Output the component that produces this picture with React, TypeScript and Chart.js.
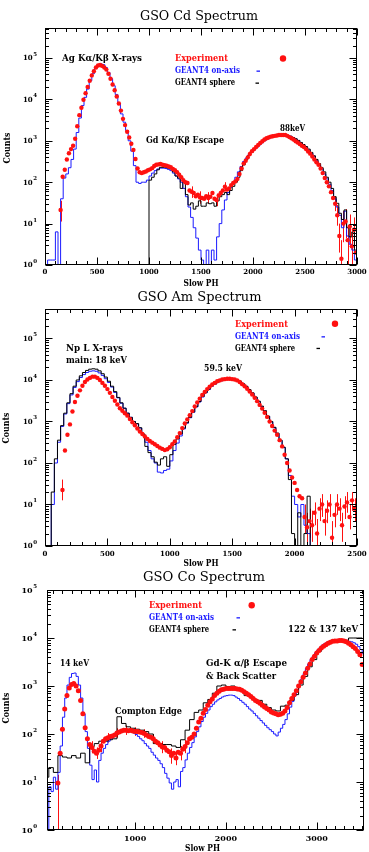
import React, { useEffect, useRef } from "react";
import { Chart, registerables } from "chart.js";

Chart.register(...registerables);

const FONT = '"DejaVu Serif", "Liberation Serif", serif';
const RED = "#ff1010";
const BLUE = "#1a1aff";
const BLACK = "#000000";

// ---------------- Common tick labels ----------------
const yDecades = [0, 1, 2, 3, 4, 5];
const cdXTicks = [0, 500, 1000, 1500, 2000, 2500, 3000];
const amXTicks = [0, 500, 1000, 1500, 2000, 2500];
const coXTicks = [1000, 2000, 3000];

// ---------------- GSO Cd (values are log10(counts)) ----------------
const cdExpStart = 150;
const cdExpStep = 20;
const cdExpLog = [
  1.33, 2.13, 2.30, 2.55, 2.70, 2.80, 2.88, 3.05, 3.35, 3.62,
  3.80, 3.99, 4.15, 4.30, 4.45, 4.58, 4.68, 4.77, 4.82, 4.83,
  4.81, 4.77, 4.72, 4.62, 4.50, 4.36, 4.22, 4.07, 3.90, 3.73,
  3.53, 3.38, 3.22, 3.08, 2.93, 2.78, 2.56, 2.33, 2.24, 2.22,
  2.24, 2.26, 2.29, 2.31, 2.34, 2.39, 2.42, 2.43, 2.44, 2.42,
  2.41, 2.40, 2.38, 2.36, 2.32, 2.29, 2.24, 2.18, 2.12, 2.05,
  2.00, 1.98, 1.80, 1.77, 1.74, 1.66, 1.70, 1.63, 1.62, 1.60,
  1.66, 1.62, 1.65, 1.74, 1.60, 1.57, 1.68, 1.74, 1.80, 1.89,
  1.82, 1.85, 1.93, 1.98, 2.02, 2.08, 2.20, 2.33, 2.45, 2.52,
  2.60, 2.68, 2.75, 2.80, 2.85, 2.90, 2.95, 2.99, 3.03, 3.06,
  3.08, 3.10, 3.11, 3.12, 3.13, 3.14, 3.14, 3.14, 3.14, 3.12,
  3.09, 3.06, 3.03, 2.99, 2.96, 2.92, 2.88, 2.85, 2.80, 2.74,
  2.69, 2.62, 2.55, 2.48, 2.42, 2.33, 2.22, 2.10, 2.00, 1.90,
  1.76, 1.62, 1.48, 1.20, 0.70, 0.15, 1.00, 1.05, 0.60, 0.93,
  0.45, 0.85, 0.30,
];
const cdErrPH = [150, 1410, 1490, 1570, 1650, 1730, 2790, 2810, 2830, 2850, 2870, 2890, 2910, 2930, 2950, 2970, 2990];
const cdErrLo = [1.05, 1.62, 1.48, 1.48, 1.42, 1.78, 1.30, 0.95, 0.30, -1, 0.55, 0.65, -1, 0.50, -1, 0.40, -1];
const cdErrHi = [1.55, 1.90, 1.78, 1.76, 1.72, 2.00, 1.65, 1.45, 1.00, 0.60, 1.30, 1.35, 0.95, 1.22, 0.80, 1.15, 0.70];

const cdAxisStart = 0;
const cdAxisStep = 25;
const cdAxisLog = [
  -1, 0.12, 0.12, 0.12, 0.80, -1, 1.60, 2.10, 2.20, 2.35,
  2.55, 2.80, 3.20, 3.55, 3.85, 4.05, 4.25, 4.45, 4.62, 4.75,
  4.84, 4.86, 4.84, 4.77, 4.65, 4.50, 4.33, 4.12, 3.90, 3.65,
  3.45, 3.25, 3.00, 2.75, 2.40, 2.00, 1.97, 2.00, 2.00, 2.05,
  2.15, 2.22, 2.28, 2.32, 2.34, 2.34, 2.33, 2.31, 2.28, 2.22,
  2.15, 2.08, 2.00, 1.85, 1.65, 1.40, 1.15, 0.90, 0.65, 0.36,
  0.12, -1, 0.36, -1, 0.36, 0.12, 0.68, 1.00, 1.33, 1.57,
  1.75, 1.88, 2.00, 2.12, 2.25, 2.38, 2.50, 2.58, 2.66, 2.72,
  2.78, 2.84, 2.90, 2.95, 3.00, 3.04, 3.07, 3.10, 3.12, 3.13,
  3.14, 3.15, 3.14, 3.13, 3.11, 3.08, 3.04, 3.00, 2.95, 2.90,
  2.85, 2.78, 2.70, 2.62, 2.52, 2.42, 2.32, 2.20, 2.08, 1.95,
  1.80, 1.60, 1.40, 1.20, 0.90, 1.30, 0.70, 0.50, 0.36, 0.12,
];

const cdSphereStart = 975;
const cdSphereStep = 25;
const cdSphereLog = [
  -1, 2.05, 2.12, 2.20, 2.30, 2.36, 2.36, 2.36, 2.34, 2.32,
  2.25, 2.15, 2.10, 1.85, 2.00, 1.70, 1.45, 1.50, 1.35, 1.42,
  1.55, 1.42, 1.42, 1.50, 1.48, 1.50, 1.42, 1.55, 1.65, 1.70,
  1.75, 1.70, 1.80, 1.90, 2.00, 2.12, 2.28, 2.42, 2.55, 2.64,
  2.72, 2.80, 2.86, 2.92, 2.96, 3.01, 3.05, 3.08, 3.10, 3.12,
  3.13, 3.15, 3.15, 3.15, 3.13, 3.11, 3.08, 3.05, 3.01, 2.96,
  2.91, 2.86, 2.80, 2.72, 2.64, 2.55, 2.45, 2.35, 2.25, 2.12,
  2.00, 1.85, 1.65, 1.49, 1.25, 1.10, 1.33, 0.90, 0.68, 0.80,
  0.36,
];

// ---------------- GSO Am ----------------
const amExpStart = 140;
const amExpStep = 20;
const amExpLog = [
  1.35, 2.30, 2.68, 2.93, 3.24, 3.47, 3.62, 3.75, 3.86, 3.95,
  4.01, 4.05, 4.08, 4.08, 4.05, 4.00, 3.93, 3.86, 3.78, 3.69,
  3.59, 3.50, 3.41, 3.32, 3.26, 3.20, 3.14, 3.06, 2.98, 2.91,
  2.83, 2.76, 2.70, 2.64, 2.58, 2.53, 2.49, 2.45, 2.41, 2.37,
  2.34, 2.31, 2.33, 2.38, 2.45, 2.52, 2.62, 2.72, 2.84, 2.95,
  3.05, 3.15, 3.25, 3.36, 3.46, 3.55, 3.64, 3.71, 3.78, 3.84,
  3.89, 3.93, 3.97, 3.99, 4.01, 4.02, 4.03, 4.03, 4.02, 4.01,
  3.99, 3.95, 3.90, 3.85, 3.79, 3.72, 3.65, 3.57, 3.49, 3.40,
  3.31, 3.21, 3.11, 3.00, 2.89, 2.78, 2.68, 2.55, 2.40, 2.20,
  2.00, 1.82, 1.65, 1.52, 1.35, 1.20, 1.15, 0.70, 0.45, 0.60,
  0.50, 0.80, 0.30, 0.90, 1.00, 0.60, 0.85, 1.00, 0.20, 0.75,
  1.00, 0.90, 0.50, 0.95, 1.05, 0.70, 1.10, 0.90,
];
const amErrPH = [140, 2080, 2100, 2120, 2140, 2160, 2180, 2200, 2220, 2240, 2260, 2280, 2300, 2320, 2340, 2360, 2380, 2400, 2420, 2440, 2460, 2480];
const amErrLo = [1.10, 0.30, -1, 0.20, 0.10, 0.50, -1, 0.60, 0.70, 0.25, 0.55, 0.70, -1, 0.45, 0.75, 0.60, 0.10, 0.65, 0.80, 0.40, 0.85, 0.60];
const amErrHi = [1.60, 1.00, 0.80, 0.90, 0.85, 1.05, 0.65, 1.15, 1.25, 0.90, 1.10, 1.25, 0.60, 1.00, 1.25, 1.15, 0.80, 1.20, 1.30, 1.00, 1.30, 1.15];

const amSimStart = 0;
const amSimStep = 25;
const amAxisLog = [
  -1, -1, 1.00, 2.00, 2.50, 2.88, 3.18, 3.43, 3.64, 3.82,
  3.96, 4.06, 4.13, 4.18, 4.21, 4.22, 4.21, 4.17, 4.11, 4.03,
  3.94, 3.83, 3.70, 3.57, 3.44, 3.32, 3.20, 3.10, 3.00, 2.94,
  2.84, 2.68, 2.50, 2.30, 2.10, 2.00, 1.78, 1.76, 1.82, 1.85,
  2.05, 2.30, 2.48, 2.65, 2.82, 2.96, 3.09, 3.22, 3.35, 3.47,
  3.59, 3.69, 3.77, 3.85, 3.90, 3.95, 3.98, 4.00, 4.02, 4.02,
  4.01, 3.99, 3.96, 3.90, 3.84, 3.76, 3.68, 3.58, 3.48, 3.36,
  3.25, 3.12, 2.99, 2.85, 2.71, 2.54, 2.37, 2.10, 1.70, 1.20,
  1.00, 0.70, 1.00, 0.50, 0.30, -1, -1, -1, -1, -1,
  -1, -1, -1, -1, -1, -1, -1, -1, -1, -1,
];
const amSphereLog = [
  -1, -1, 1.30, 2.10, 2.55, 2.90, 3.20, 3.45, 3.67, 3.85,
  4.00, 4.10, 4.18, 4.23, 4.26, 4.27, 4.26, 4.22, 4.15, 4.07,
  3.97, 3.85, 3.72, 3.58, 3.45, 3.32, 3.20, 3.10, 3.00, 2.95,
  2.85, 2.70, 2.40, 2.25, 2.15, 2.02, 1.95, 2.10, 2.15, 1.92,
  2.20, 2.45, 2.58, 2.70, 2.84, 2.97, 3.10, 3.23, 3.36, 3.48,
  3.60, 3.70, 3.78, 3.86, 3.91, 3.96, 3.99, 4.01, 4.03, 4.03,
  4.02, 4.00, 3.97, 3.91, 3.85, 3.77, 3.69, 3.59, 3.49, 3.37,
  3.26, 3.13, 3.00, 2.86, 2.72, 2.55, 2.38, 2.10, 1.60, 0.30,
  -1, 0.80, -1, 0.30, 1.20, -1, -1, -1, -1, -1,
  -1, -1, -1, -1, -1, -1, -1, -1, -1, -1,
];

// ---------------- GSO Co ----------------
const coExpStart = 150;
const coExpStep = 25;
const coExpLog = [
  0.98, 1.60, 2.10, 2.52, 2.80, 2.96, 3.03, 3.05, 3.00, 2.90,
  2.70, 2.42, 2.13, 1.90, 1.78, 1.72, 1.64, 1.60, 1.66, 1.75,
  1.85, 1.90, 1.92, 1.95, 1.96, 1.98, 2.02, 2.04, 2.06, 2.08,
  2.08, 2.07, 2.08, 2.06, 2.05, 2.05, 2.04, 2.03, 2.01, 1.98,
  1.95, 1.93, 1.90, 1.85, 1.82, 1.77, 1.73, 1.72, 1.66, 1.63,
  1.55, 1.60, 1.50, 1.62, 1.60, 1.68, 1.74, 1.82, 1.90, 1.93,
  2.00, 2.12, 2.25, 2.33, 2.43, 2.51, 2.60, 2.67, 2.73, 2.80,
  2.85, 2.89, 2.92, 2.93, 2.95, 2.95, 2.95, 2.95, 2.95, 2.94,
  2.93, 2.91, 2.88, 2.85, 2.82, 2.78, 2.74, 2.70, 2.67, 2.64,
  2.60, 2.56, 2.53, 2.50, 2.46, 2.44, 2.42, 2.40, 2.41, 2.43,
  2.48, 2.55, 2.65, 2.74, 2.82, 2.90, 3.00, 3.09, 3.18, 3.27,
  3.37, 3.46, 3.55, 3.62, 3.69, 3.74, 3.79, 3.83, 3.86, 3.89,
  3.91, 3.93, 3.94, 3.94, 3.95, 3.95, 3.94, 3.92, 3.89, 3.86,
  3.82, 3.78, 3.72, 3.65, 3.45,
];
const coErrPH = [150, 525, 575, 625, 700, 800, 900, 1000, 1100, 1200, 1300, 1400, 1450, 1500, 1550];
const coErrLo = [-1, 1.60, 1.48, 1.62, 1.82, 1.92, 1.98, 1.96, 1.92, 1.80, 1.60, 1.38, 1.35, 1.45, 1.60];
const coErrHi = [1.15, 1.85, 1.72, 1.88, 2.02, 2.12, 2.18, 2.14, 2.10, 2.00, 1.85, 1.70, 1.65, 1.75, 1.88];

const coAxisStart = 0;
const coAxisStep = 25;
const coAxisLog = [
  -1, -1, 0.90, 0.80, 1.10, 0.85, 1.20, 1.75, 2.35, 2.75,
  3.02, 3.18, 3.26, 3.27, 3.20, 3.02, 2.75, 2.42, 2.05, 1.70,
  1.35, 1.05, 1.25, 1.00, 1.45, 1.60, 1.70, 1.78, 1.85, 1.90,
  1.96, 1.99, 2.02, 2.04, 2.05, 2.06, 2.06, 2.05, 2.04, 2.02,
  1.99, 1.95, 1.90, 1.86, 1.80, 1.75, 1.70, 1.62, 1.56, 1.50,
  1.45, 1.38, 1.30, 1.18, 1.08, 0.98, 0.85, 1.00, 1.05, 0.90,
  1.22, 1.30, 1.46, 1.60, 1.72, 1.82, 1.94, 2.05, 2.15, 2.26,
  2.35, 2.43, 2.50, 2.57, 2.62, 2.67, 2.71, 2.74, 2.77, 2.79,
  2.80, 2.81, 2.81, 2.80, 2.77, 2.74, 2.70, 2.66, 2.62, 2.57,
  2.52, 2.48, 2.43, 2.38, 2.33, 2.28, 2.23, 2.18, 2.13, 2.09,
  2.05, 2.00, 1.96, 2.04, 2.12, 2.20, 2.30, 2.42, 2.56, 2.68,
  2.80, 2.92, 3.04, 3.15, 3.26, 3.37, 3.46, 3.55, 3.62, 3.69,
  3.75, 3.80, 3.85, 3.88, 3.91, 3.93, 3.94, 3.95, 3.96, 3.97,
  3.97, 3.97, 3.96, 3.95, 3.93, 3.92, 3.90, 3.87, 3.82, 3.76,
  3.68,
];

const coSphereStart = 0;
const coSphereStep = 50;
const coSphereLog = [
  1.10, 1.30, 1.20, 1.55, 1.52, 1.50, 1.55, 1.50, 1.60, 1.40,
  1.74, 1.80, 1.85, 1.85, 1.88, 1.90, 2.36, 2.22, 2.15, 2.12,
  2.10, 2.08, 2.05, 2.00, 1.80, 1.80, 1.78, 1.78, 1.75, 1.72,
  1.88, 2.08, 2.30, 2.45, 2.50, 2.65, 2.72, 2.85, 3.00, 3.02,
  2.99, 3.00, 2.95, 2.90, 2.80, 2.78, 2.72, 2.70, 2.62, 2.55,
  2.50, 2.48, 2.58, 2.60, 2.70, 2.82, 3.02, 3.20, 3.40, 3.55,
  3.72, 3.82, 3.88, 3.92, 3.93, 3.96, 3.95, 4.00, 4.00, 4.00,
];

// ---------------- Helpers ----------------
type Pt = { x: number; y: number };
function toPoints(start: number, step: number, logs: number[], closeEnd: boolean): Pt[] {
  const out = logs.map((v, i) => ({ x: start + step * i, y: Math.pow(10, v) }));
  if (closeEnd) {
    out.push({ x: start + step * logs.length, y: Math.pow(10, logs[logs.length - 1]) });
  }
  return out;
}

type Note = { text: string; x: number; y: number; w: number };

interface PanelCfg {
  key: string;
  top: number;
  h: number;
  pad: { left: number; right: number; top: number; bottom: number };
  xMin: number;
  xMax: number;
  yMax: number;
  xMajor: number;
  xMinor: number;
  xTicks: number[];
  xTickY: number;
  tickFont: number;
  yLabelGap: number;
  title: string;
  titleX: number;
  titleY: number;
  titleW: number;
  slowPH: [number, number];
  counts: [number, number];
  legX: number;
  legY: [number, number, number];
  dotX: number;
  dashX: [number, number];
  notes: Note[];
  pointR: number;
  exp: Pt[];
  axis: Pt[];
  sphere: Pt[];
  errPH: number[];
  errLo: number[];
  errHi: number[];
}

// draw text at a fixed font size, squeezed/stretched horizontally to a target width
function fitText(
  ctx: any,
  text: string,
  x: number,
  y: number,
  w: number,
  weight: string,
  size: number,
  align: "left" | "center"
) {
  ctx.font = `${weight} ${size}px ${FONT}`;
  const m = ctx.measureText(text).width;
  const sx = w / m;
  ctx.save();
  ctx.translate(x, y);
  ctx.scale(sx, 1);
  ctx.textAlign = align;
  ctx.fillText(text, 0, 0);
  ctx.restore();
}

function makeDecor(p: PanelCfg) {
  return {
    id: "decor_" + p.key,
    beforeDatasetsDraw(chart: any) {
      const { ctx, chartArea: a, scales } = chart;
      const xs = scales.x;
      const ys = scales.y;
      ctx.save();
      ctx.beginPath();
      ctx.rect(a.left, a.top, a.right - a.left, a.bottom - a.top);
      ctx.clip();
      ctx.strokeStyle = RED;
      ctx.lineWidth = 1;
      p.errPH.forEach((ph, i) => {
        const px = Math.round(xs.getPixelForValue(ph)) + 0.5;
        ctx.beginPath();
        ctx.moveTo(px, ys.getPixelForValue(Math.pow(10, p.errLo[i])));
        ctx.lineTo(px, ys.getPixelForValue(Math.pow(10, p.errHi[i])));
        ctx.stroke();
      });
      ctx.restore();
    },
    afterDraw(chart: any) {
      const { ctx, chartArea: a, scales } = chart;
      const xs = scales.x;
      const ys = scales.y;
      const L = Math.round(a.left) + 0.5;
      const R = Math.round(a.right) - 0.5;
      const T = Math.round(a.top) + 0.5;
      const B = Math.round(a.bottom) - 0.5;
      ctx.save();
      ctx.strokeStyle = BLACK;
      ctx.fillStyle = BLACK;
      ctx.lineWidth = 1;
      ctx.strokeRect(L, T, R - L, B - T);

      // x ticks (inside, top and bottom)
      ctx.beginPath();
      const first = Math.ceil(p.xMin / p.xMinor) * p.xMinor;
      for (let v = first; v <= p.xMax + 1e-6; v += p.xMinor) {
        const px = Math.round(xs.getPixelForValue(v)) + 0.5;
        const major = Math.abs(v % p.xMajor) < 1e-6;
        const len = major ? 7 : 3.5;
        ctx.moveTo(px, B);
        ctx.lineTo(px, B - len);
        ctx.moveTo(px, T);
        ctx.lineTo(px, T + len);
      }
      // y ticks (log)
      for (let d = 0; d <= 5; d++) {
        for (let m = 1; m <= 9; m++) {
          const val = m * Math.pow(10, d);
          if (val > p.yMax * 1.0001) break;
          const py = Math.round(ys.getPixelForValue(val)) + 0.5;
          const len = m === 1 ? 7 : 3.5;
          ctx.moveTo(L, py);
          ctx.lineTo(L + len, py);
          ctx.moveTo(R, py);
          ctx.lineTo(R - len, py);
        }
      }
      ctx.stroke();

      // x tick labels
      ctx.textBaseline = "middle";
      ctx.textAlign = "center";
      ctx.font = `bold ${p.tickFont}px ${FONT}`;
      p.xTicks.forEach((v) => {
        ctx.fillText(String(v), xs.getPixelForValue(v), p.xTickY);
      });

      // y tick labels 10^d
      yDecades.forEach((d) => {
        const py = ys.getPixelForValue(Math.pow(10, d));
        ctx.font = `bold 5.5px ${FONT}`;
        const sw = ctx.measureText(String(d)).width;
        const right = a.left - p.yLabelGap;
        ctx.textAlign = "left";
        ctx.fillText(String(d), right - sw, py - 3.5);
        ctx.font = `bold ${p.tickFont}px ${FONT}`;
        ctx.textAlign = "right";
        ctx.fillText("10", right - sw - 0.5, py + 0.5);
      });

      // axis titles
      fitText(ctx, "Slow PH", p.slowPH[0], p.slowPH[1], 35, "bold", 8.5, "center");
      ctx.save();
      ctx.translate(p.counts[0], p.counts[1]);
      ctx.rotate(-Math.PI / 2);
      fitText(ctx, "Counts", 0, 0, 31, "bold", 8.5, "center");
      ctx.restore();

      // title
      fitText(ctx, p.title, p.titleX, p.titleY, p.titleW, "normal", 13, "center");

      // legend
      ctx.fillStyle = RED;
      fitText(ctx, "Experiment", p.legX, p.legY[0], 53, "bold", 8.5, "left");
      ctx.beginPath();
      ctx.arc(p.dotX, p.legY[0] - 0.5, 3.2, 0, Math.PI * 2);
      ctx.fill();
      ctx.fillStyle = BLUE;
      fitText(ctx, "GEANT4 on-axis", p.legX, p.legY[1], 65, "bold", 8.5, "left");
      ctx.fillRect(p.dashX[0] - 1.5, p.legY[1] - 0.5, 3.5, 1.3);
      ctx.fillStyle = BLACK;
      fitText(ctx, "GEANT4 sphere", p.legX, p.legY[2], 60, "bold", 8.5, "left");
      ctx.fillRect(p.dashX[1] - 1.5, p.legY[2] - 0.5, 3.5, 1.3);

      // annotations
      p.notes.forEach((n) => fitText(ctx, n.text, n.x, n.y, n.w, "bold", 8.5, "left"));
      ctx.restore();
    },
  };
}

const panels: PanelCfg[] = [
  {
    key: "cd",
    top: 0,
    h: 290,
    pad: { left: 45, right: 12, top: 28, bottom: 25 },
    xMin: 0,
    xMax: 3000,
    yMax: Math.pow(10, 5.725),
    xMajor: 500,
    xMinor: 100,
    xTicks: cdXTicks,
    xTickY: 272,
    tickFont: 7,
    yLabelGap: 8,
    title: "GSO Cd Spectrum",
    titleX: 199,
    titleY: 17,
    titleW: 118,
    slowPH: [201, 284],
    counts: [8, 148],
    legX: 175,
    legY: [59, 71, 83],
    dotX: 283,
    dashX: [258, 257],
    notes: [
      { text: "Ag K\u03b1/K\u03b2 X-rays", x: 62, y: 59, w: 80 },
      { text: "Gd K\u03b1/K\u03b2 Escape", x: 146, y: 141, w: 78 },
      { text: "88keV", x: 280, y: 129, w: 25 },
    ],
    pointR: 2.2,
    exp: toPoints(cdExpStart, cdExpStep, cdExpLog, false),
    axis: toPoints(cdAxisStart, cdAxisStep, cdAxisLog, true),
    sphere: toPoints(cdSphereStart, cdSphereStep, cdSphereLog, true),
    errPH: cdErrPH,
    errLo: cdErrLo,
    errHi: cdErrHi,
  },
  {
    key: "am",
    top: 290,
    h: 280,
    pad: { left: 45, right: 12, top: 19, bottom: 24 },
    xMin: 0,
    xMax: 2500,
    yMax: Math.pow(10, 5.71),
    xMajor: 500,
    xMinor: 100,
    xTicks: amXTicks,
    xTickY: 264,
    tickFont: 7,
    yLabelGap: 8,
    title: "GSO Am Spectrum",
    titleX: 199.5,
    titleY: 8,
    titleW: 124,
    slowPH: [201, 274],
    counts: [7, 138],
    legX: 235,
    legY: [34.3, 46.7, 58.3],
    dotX: 335,
    dashX: [323, 318],
    notes: [
      { text: "Np L X-rays", x: 66, y: 58.3, w: 57 },
      { text: "main: 18 keV", x: 66, y: 71, w: 61 },
      { text: "59.5 keV", x: 204, y: 78.3, w: 38 },
    ],
    pointR: 2.2,
    exp: toPoints(amExpStart, amExpStep, amExpLog, false),
    axis: toPoints(amSimStart, amSimStep, amAxisLog, true),
    sphere: toPoints(amSimStart, amSimStep, amSphereLog, true),
    errPH: amErrPH,
    errLo: amErrLo,
    errHi: amErrHi,
  },
  {
    key: "co",
    top: 570,
    h: 282,
    pad: { left: 47, right: 5, top: 20, bottom: 22 },
    xMin: 30,
    xMax: 3520,
    yMax: 1e5,
    xMajor: 1000,
    xMinor: 100,
    xTicks: coXTicks,
    xTickY: 269,
    tickFont: 8,
    yLabelGap: 10,
    title: "GSO Co Spectrum",
    titleX: 204,
    titleY: 8,
    titleW: 122,
    slowPH: [202.5, 279],
    counts: [7, 138],
    legX: 149,
    legY: [35.7, 47.7, 59.7],
    dotX: 251.7,
    dashX: [238, 234],
    notes: [
      { text: "14 keV", x: 60, y: 94, w: 29 },
      { text: "Compton Edge", x: 115, y: 141.7, w: 67 },
      { text: "Gd-K \u03b1/\u03b2 Escape", x: 206, y: 94, w: 81 },
      { text: "& Back Scatter", x: 206, y: 106.7, w: 70 },
      { text: "122 & 137 keV", x: 288, y: 60, w: 70 },
    ],
    pointR: 2.5,
    exp: toPoints(coExpStart, coExpStep, coExpLog, false),
    axis: toPoints(coAxisStart, coAxisStep, coAxisLog, true),
    sphere: toPoints(coSphereStart, coSphereStep, coSphereLog, true),
    errPH: coErrPH,
    errLo: coErrLo,
    errHi: coErrHi,
  },
];

function PanelChart({ p }: { p: PanelCfg }) {
  const ref = useRef<HTMLCanvasElement | null>(null);
  useEffect(() => {
    if (!ref.current) return;
    const chart = new Chart(ref.current, {
      type: "line",
      data: {
        datasets: [
          {
            label: "Experiment",
            data: p.exp,
            showLine: false,
            pointRadius: p.pointR,
            pointBackgroundColor: RED,
            pointBorderColor: RED,
            pointBorderWidth: 0,
            order: 0,
          },
          {
            label: "GEANT4 sphere",
            data: p.sphere,
            showLine: true,
            stepped: true,
            borderColor: BLACK,
            borderWidth: 1,
            pointRadius: 0,
            fill: false,
            order: 1,
          },
          {
            label: "GEANT4 on-axis",
            data: p.axis,
            showLine: true,
            stepped: true,
            borderColor: BLUE,
            borderWidth: 1,
            pointRadius: 0,
            fill: false,
            order: 2,
          },
        ],
      } as any,
      options: {
        animation: false,
        responsive: false,
        devicePixelRatio: 1,
        events: [],
        layout: { padding: p.pad },
        plugins: {
          legend: { display: false },
          tooltip: { enabled: false },
          title: { display: false },
        },
        scales: {
          x: { type: "linear", display: false, min: p.xMin, max: p.xMax },
          y: { type: "logarithmic", display: false, min: 1, max: p.yMax },
        },
      } as any,
      plugins: [makeDecor(p)],
    });
    return () => chart.destroy();
  }, [p]);
  return (
    <canvas
      ref={ref}
      width={369}
      height={p.h}
      style={{ position: "absolute", left: 0, top: p.top, width: 369, height: p.h }}
    />
  );
}

export default function App() {
  return (
    <div
      style={{
        position: "absolute",
        left: 0,
        top: 0,
        width: 369,
        height: 852,
        background: "#ffffff",
        overflow: "hidden",
      }}
    >
      {panels.map((p) => (
        <PanelChart key={p.key} p={p} />
      ))}
    </div>
  );
}
